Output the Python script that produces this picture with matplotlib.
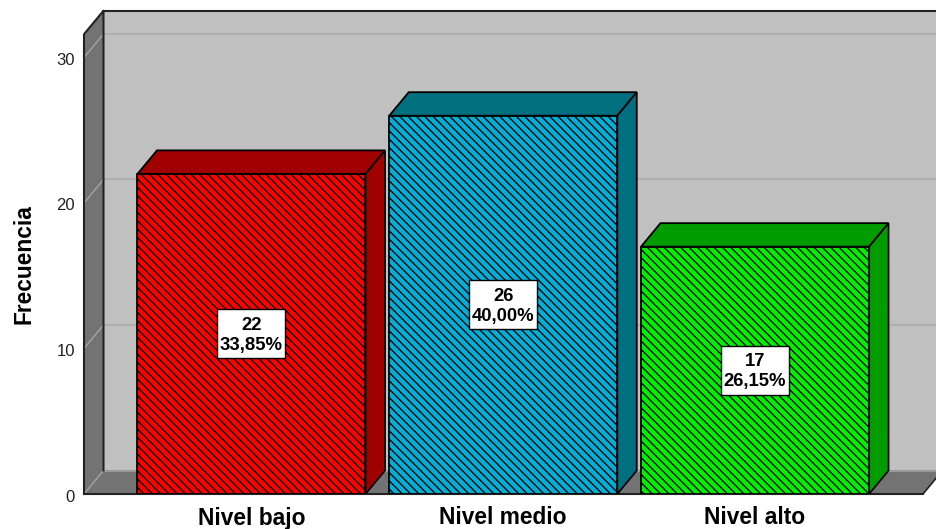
"""
Bar chart of Frecuencia by nivel, drawn in the old SPSS 3D style
"""
import matplotlib
matplotlib.use('Agg')
import matplotlib.pyplot as plt
from matplotlib.patches import Polygon, Rectangle
from matplotlib.transforms import ScaledTranslation

categorias = ['Nivel bajo', 'Nivel medio', 'Nivel alto']
frecuencias = [22, 26, 17]
porcentajes = ['33,85%', '40,00%', '26,15%']
ticks_y = [0, 10, 20, 30]

colores_frente = ['#ff0000', '#00b0d8', '#00f000']
colores_lado = ['#a00000', '#007080', '#009c00']

plt.rcParams['font.family'] = ['Liberation Sans', 'DejaVu Sans']
plt.rcParams['hatch.linewidth'] = 1.0

fig = plt.figure(figsize=(9.37, 5.29), dpi=100)
ax = fig.add_axes([84 / 937, 35 / 529, 853 / 937, 494 / 529])

px_x = 251.75                       # pixels per category
px_y = 14.55                        # pixels per unit of frequency
ax.set_xlim((84 - 251.5) / px_x, (937 - 251.5) / px_x)
ax.set_ylim(0, 494 / px_y)

# Depth of the 3D effect in data units
dx = 19.5 / px_x
dy = 23.5 / px_y
izq = ax.get_xlim()[0]
der = (923 - 251.5) / px_x
techo = 31.6
ancho = 228 / px_x

# Back wall, side wall and floor
ax.add_patch(Polygon([(izq + dx, dy), (izq + dx, techo + dy), (der + dx * 2, techo + dy), (der + dx * 2, dy)],
                     facecolor='#c0c0c0', edgecolor='none', zorder=1))
ax.add_patch(Polygon([(izq, 0), (izq, techo), (izq + dx, techo + dy), (izq + dx, dy)],
                     facecolor='#737373', edgecolor='none', zorder=2, clip_on=False))
ax.add_patch(Polygon([(izq, 0), (izq + dx, dy), (der + dx, dy), (der, 0)],
                     facecolor='#737373', edgecolor='none', zorder=2, clip_on=False))
ax.plot([izq + dx, der + dx * 2], [dy, dy], color='#999999', linewidth=1.5, zorder=2.2)
ax.plot([izq, der], [0, 0], color='#222222', linewidth=1.5, zorder=3, clip_on=False)
ax.plot([der, der + dx], [0, dy], color='#222222', linewidth=1.2, zorder=3)
ax.plot([izq + dx, der + dx * 2], [techo + dy, techo + dy], color='#222222', linewidth=1.5, zorder=3)
ax.plot([izq, izq, izq + dx, izq + dx], [0, techo, techo + dy, dy], color='#222222', linewidth=1.5,
        zorder=3, clip_on=False)

# Gridlines on the wall and the side
for t in ticks_y:
    if t > 0:
        ax.plot([izq + dx, der + dx * 2], [t + dy, t + dy], color='#b0b0b0', linewidth=1.6, zorder=1.5)
    ax.plot([izq, izq + dx], [t, t + dy], color='#a0a0a0', linewidth=1.1, zorder=2.5)

# Bars with their top and right faces
for i in range(len(frecuencias)):
    v = frecuencias[i]
    x0 = i - ancho / 2
    x1 = i + ancho / 2
    ax.bar(i, v, width=ancho, color=colores_frente[i], edgecolor='black', linewidth=1.3,
           hatch='\\\\\\\\', zorder=5)
    ax.add_patch(Polygon([(x0, v), (x0 + dx, v + dy), (x1 + dx, v + dy), (x1, v)],
                         facecolor=colores_lado[i], edgecolor='black', linewidth=1.3, zorder=4))
    ax.add_patch(Polygon([(x1, 0), (x1, v), (x1 + dx, v + dy), (x1 + dx, dy)],
                         facecolor=colores_lado[i], edgecolor='black', linewidth=1.3, zorder=4))
    caja_w = 68 / px_x
    caja_h = 49 / px_y
    ax.add_patch(Rectangle((i - caja_w / 2, v / 2 - caja_h / 2), caja_w, caja_h,
                           facecolor='white', edgecolor='black', linewidth=1, zorder=6))
    ax.text(i, v / 2 - 0.1, '{}\n{}'.format(v, porcentajes[i]), ha='center', va='center',
            fontsize=13.3, fontweight='bold', linespacing=1.2, zorder=7)

for lado in ax.spines.values():
    lado.set_visible(False)
ax.patch.set_visible(False)
ax.set_yticks(ticks_y)
ax.tick_params(axis='y', length=0, pad=6.5, labelsize=12, labelcolor='#222222')
for etiqueta in ax.get_yticklabels():
    etiqueta.set_transform(etiqueta.get_transform() + ScaledTranslation(0, -1.5 / 100, fig.dpi_scale_trans))
ax.set_xticks(range(len(categorias)))
ax.set_xticklabels(categorias, fontsize=16.4, fontweight='bold')
ax.tick_params(axis='x', length=0, pad=9)
ax.set_ylabel('Frecuencia', fontsize=16.4, fontweight='bold')
ax.yaxis.set_label_coords(-48 / 853, 229.5 / 494)

plt.savefig('out.png', dpi=100)
plt.close()
